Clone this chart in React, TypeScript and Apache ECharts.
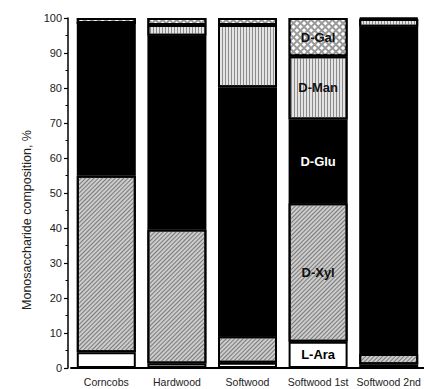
import React, { useEffect, useRef } from "react";
import * as echarts from "echarts";

const categories = ["Corncobs", "Hardwood", "Softwood", "Softwood 1st", "Softwood 2nd"];
const lAra = [4.5, 1.3, 1.5, 7.5, 1.1];
const dXyl = [50.4, 38.3, 7.6, 39.6, 2.9];
const dGlu = [43.7, 55.3, 71.1, 23.9, 93.5];
const dMan = [0, 3.1, 17.8, 18.1, 2.2];
const dGal = [1.4, 2.0, 2.0, 10.9, 0.3];
const labelIndex = 3;
const yAxisName = "Monosaccharide composition, %";

const FONT = "'Liberation Sans', Arial, sans-serif";

export default function App() {
  const ref = useRef<HTMLDivElement>(null);
  useEffect(() => {
    if (!ref.current) return;
    const chart = echarts.init(ref.current, null, { renderer: "svg" });
    const mk = (name: string, values: number[], color: string, decal: any, labelColor: string) => ({
      name,
      type: "bar",
      stack: "total",
      barWidth: 59,
      itemStyle: { color, borderColor: "#000", borderWidth: 2, decal },
      data: values.map((v, i) =>
        i === labelIndex
          ? {
              value: v,
              label: {
                show: true,
                position: "inside",
                formatter: name,
                color: labelColor,
                fontFamily: FONT,
                fontWeight: "bold",
                fontSize: 13,
              },
            }
          : v
      ),
    });
    chart.setOption({
      animation: false,
      aria: { enabled: false },
      grid: { left: 71, top: 18, width: 357.5, bottom: 21 },
      graphic: [
        {
          type: "text",
          x: 27,
          y: 220,
          rotation: Math.PI / 2,
          style: {
            text: yAxisName,
            fill: "#222",
            fontFamily: FONT,
            fontSize: 12.5,
            textAlign: "center",
            textVerticalAlign: "middle",
          },
        },
      ],
      xAxis: {
        type: "category",
        data: categories,
        axisLine: { lineStyle: { color: "#000", width: 2 } },
        axisTick: { show: false },
        axisLabel: { color: "#222", fontFamily: FONT, fontSize: 10.5, margin: 8, interval: 0 },
      },
      yAxis: {
        type: "value",
        min: 0,
        max: 100,
        interval: 10,
        offset: 3,
        axisLine: { show: true, lineStyle: { color: "#000", width: 1.5 } },
        axisTick: { show: true, length: 4, lineStyle: { color: "#000", width: 1.2 } },
        minorTick: { show: true, splitNumber: 2, length: 2.5, lineStyle: { color: "#000" } },
        splitLine: { show: false },
        axisLabel: { color: "#222", fontFamily: FONT, fontSize: 11, margin: 6 },
      },
      series: [
        mk("L-Ara", lAra, "#ffffff", undefined, "#000"),
        mk(
          "D-Xyl",
          dXyl,
          "#cccccc",
          { symbol: "rect", symbolSize: 1, color: "#7a7a7a", dashArrayX: [1, 0], dashArrayY: [1, 2], rotation: -Math.PI / 4 },
          "#111"
        ),
        mk("D-Glu", dGlu, "#000000", undefined, "#fff"),
        mk(
          "D-Man",
          dMan,
          "#e4e4e4",
          { symbol: "rect", symbolSize: 1, color: "#8c8c8c", dashArrayX: [1, 2], dashArrayY: [1, 0], rotation: 0 },
          "#111"
        ),
        mk(
          "D-Gal",
          dGal,
          "#9a9a9a",
          { symbol: "rect", symbolSize: 1, color: "#ffffff", dashArrayX: [3, 1.5], dashArrayY: [3, 1.5], rotation: Math.PI / 4 },
          "#111"
        ),
      ],
    });
    return () => chart.dispose();
  }, []);
  return <div ref={ref} style={{ width: 424, height: 389, position: "absolute", left: 0, top: 0 }} />;
}
